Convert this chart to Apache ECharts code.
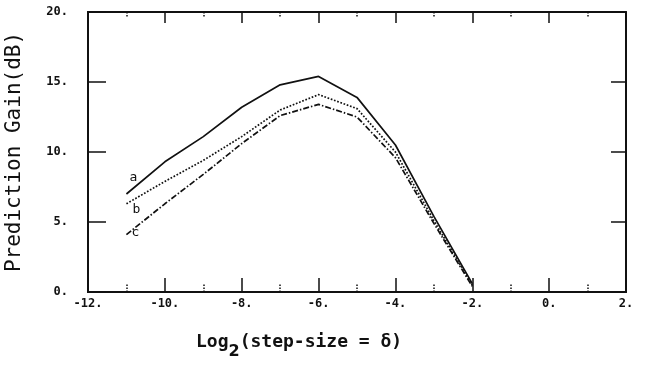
<!DOCTYPE html>
<html>
<head>
<meta charset="utf-8">
<script src="https://cdn.jsdelivr.net/npm/echarts@6/dist/echarts.min.js"></script>
<style>
  html, body { margin: 0; padding: 0; background: #fff; }
  #chart { width: 647px; height: 365px; }
</style>
</head>
<body>
<div id="chart"></div>
<script>
// log2 of step size
const steps = [-11, -10, -9, -8, -7, -6, -5, -4, -3, -2]
// prediction gain (dB)
const gainA = [7.0, 9.3, 11.1, 13.2, 14.8, 15.4, 13.9, 10.5, 5.4, 0.6]
const gainB = [6.3, 7.9, 9.4, 11.1, 13.0, 14.1, 13.1, 10.0, 5.1, 0.5]
const gainC = [4.1, 6.3, 8.4, 10.6, 12.6, 13.4, 12.5, 9.6, 4.9, 0.4]
const curveNames = ['a', 'b', 'c']

const mono = 'DejaVu Sans Mono'
const ink = '#111'

const chart = echarts.init(document.getElementById('chart'), null, { renderer: 'canvas' })

const pairs = (ys) => steps.map((x, i) => [x, ys[i]])

// curve letter sits next to the first point of each curve
const tag = (name, ys, offset) => ({
  symbol: 'circle',
  symbolSize: 0,
  silent: true,
  data: [{
    coord: [steps[0], ys[0]],
    label: {
      show: true,
      formatter: name,
      offset: offset,
      color: ink,
      fontFamily: mono,
      fontSize: 13,
    },
  }],
})

const lineSeries = (name, ys, type, offset) => ({
  name: name,
  type: 'line',
  xAxisIndex: 0,
  yAxisIndex: 0,
  data: pairs(ys),
  symbol: 'none',
  smooth: false,
  lineStyle: { color: ink, width: 1.7, type: type },
  markPoint: tag(name, ys, offset),
  z: 3,
})

const xBase = {
  type: 'value',
  min: -12,
  max: 2,
  interval: 2,
  axisLine: { show: true, onZero: false, lineStyle: { color: ink, width: 2 } },
  splitLine: { show: false },
  axisLabel: { show: false },
  axisTick: { show: false },
}

const yBase = {
  type: 'value',
  min: 0,
  max: 20,
  interval: 5,
  axisLine: { show: true, onZero: false, lineStyle: { color: ink, width: 2 } },
  splitLine: { show: false },
  axisLabel: { show: false },
  axisTick: { show: false },
}

const tickStyle = { color: ink, width: 1.5 }
const minorStyle = { color: ink, width: 1.5, type: 'dotted' }

const tickLabel = {
  show: true,
  formatter: (v) => v + '.',
  color: ink,
  fontFamily: mono,
  fontWeight: 'bold',
  fontSize: 12,
}

chart.setOption({
  animation: false,
  backgroundColor: '#fff',
  title: {
    text: 'Log{s|2}(step-size = δ)',
    left: 191,
    top: 319,
    textStyle: {
      fontFamily: mono,
      fontWeight: 'bold',
      fontSize: 18,
      color: ink,
      rich: {
        s: { fontFamily: 'DejaVu Sans', fontSize: 16, color: ink, padding: [20, 0, 0, 0] },
      },
    },
  },
  grid: { left: 88, right: 21, top: 12, bottom: 73, outerBoundsMode: 'none', containLabel: false },
  xAxis: [
    // bottom: labels only
    Object.assign({}, xBase, {
      position: 'bottom',
      axisLabel: Object.assign({}, tickLabel, { margin: 6 }),
    }),
    // bottom: inward ticks only
    Object.assign({}, xBase, {
      position: 'bottom',
      offset: 0,
      axisTick: { show: true, inside: true, length: 14, lineStyle: tickStyle },
      minorTick: { show: true, splitNumber: 2, length: 8, lineStyle: minorStyle },
    }),
    // top: inward ticks only
    Object.assign({}, xBase, {
      position: 'top',
      axisTick: { show: true, inside: true, length: 11, lineStyle: tickStyle },
      minorTick: { show: true, splitNumber: 2, length: 5, lineStyle: minorStyle },
    }),
  ],
  yAxis: [
    // left: labels and axis name
    Object.assign({}, yBase, {
      position: 'left',
      name: 'Prediction Gain(dB)',
      nameLocation: 'middle',
      nameRotate: 90,
      nameGap: 63,
      nameTextStyle: { fontFamily: mono, fontSize: 21, color: ink },
      axisLabel: Object.assign({}, tickLabel, { margin: 20 }),
    }),
    // left: inward ticks only
    Object.assign({}, yBase, {
      position: 'left',
      offset: 0,
      axisTick: { show: true, inside: true, length: 18, lineStyle: tickStyle },
    }),
    // right: inward ticks only
    Object.assign({}, yBase, {
      position: 'right',
      axisTick: { show: true, inside: true, length: 15, lineStyle: tickStyle },
    }),
  ],
  series: [
    lineSeries(curveNames[0], gainA, 'solid', [7, -16]),
    lineSeries(curveNames[1], gainB, 'dotted', [10, 6]),
    lineSeries(curveNames[2], gainC, [6, 2, 1.5, 2], [9, -2]),
  ],
})
</script>
</body>
</html>
